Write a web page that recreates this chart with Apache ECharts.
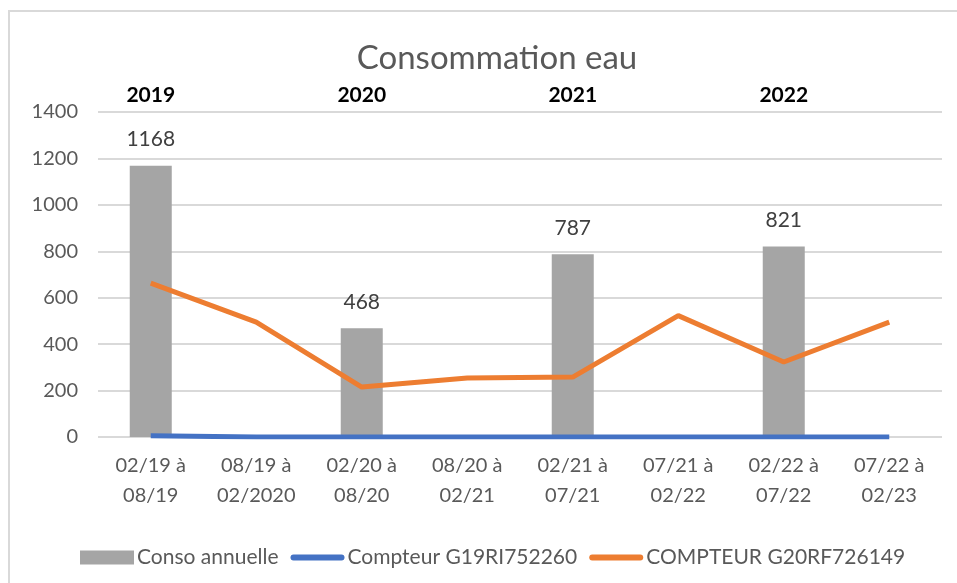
<!DOCTYPE html>
<html>
<head>
<meta charset="utf-8">
<script src="https://cdn.jsdelivr.net/npm/echarts@6/dist/echarts.min.js"></script>
<style>
	html, body { margin: 0; padding: 0; background: #fff; }
	#chart { width: 957px; height: 583px; }
</style>
</head>
<body>
<div id="chart"></div>
<script>
var periodes = ["02/19 à\n08/19", "08/19 à\n02/2020", "02/20 à\n08/20", "08/20 à\n02/21",
				"02/21 à\n07/21", "07/21 à\n02/22", "02/22 à\n07/22", "07/22 à\n02/23"];
var annees = ["2019", "", "2020", "", "2021", "", "2022", ""];
var consoAnnuelle = [1168, null, 468, null, 787, null, 821, null];
var compteurG19 = [5, 0, 0, 0, 0, 0, 0, 0];
var compteurG20 = [663, 495, 215, 254, 258, 523, 323, 495];
var yTicks = [0, 200, 400, 600, 800, 1000, 1200, 1400];

var police = "Lato, 'Open Sans', sans-serif";
// trait arrondi pour la légende des courbes
var iconTrait = 'path://M3,0 L51,0 A3,3 0 0 1 51,6 L3,6 A3,3 0 0 1 3,0 Z';
var mycharts = echarts.init(document.getElementById('chart'));

var option = {
	animation: false,
	backgroundColor: '#fff',
	title: {
		text: "Consommation eau",
		left: 492,
		textAlign: 'center',
		top: 37,
		textStyle: {
			fontFamily: police,
			fontSize: 33,
			fontWeight: 'normal',
			color: '#595959'
		}
	},
	graphic: [{
		type: 'rect',
		shape: { x: 9, y: 11, width: 1000, height: 1000 },
		style: { fill: 'none', stroke: '#d9d9d9', lineWidth: 2 },
		silent: true
	}],
	legend: {
		left: 75,
		top: 542,
		itemWidth: 54,
		itemHeight: 14,
		itemGap: 12,
		textStyle: {
			fontFamily: police,
			fontSize: 21,
			color: '#595959',
			padding: [0, 0, 0, -2]
		},
		data: [
			{ name: "Conso annuelle", icon: 'rect' },
			{ name: "Compteur G19RI752260", icon: iconTrait },
			{ name: "COMPTEUR G20RF726149", icon: iconTrait }
		]
	},
	grid: {
		left: 98,
		right: 15,
		top: 112,
		bottom: 146
	},
	xAxis: [{
		type: 'category',
		data: periodes,
		axisLine: { show: false },
		axisTick: { show: false },
		axisLabel: {
			interval: 0,
			margin: 14,
			fontFamily: police,
			fontSize: 20,
			lineHeight: 30,
			color: '#595959'
		}
	}, {
		type: 'category',
		position: 'top',
		data: annees,
		axisLine: { show: false },
		axisTick: { show: false },
		axisLabel: {
			interval: 0,
			margin: 6,
			fontFamily: police,
			fontSize: 21,
			fontWeight: 'bold',
			color: '#000'
		}
	}],
	yAxis: {
		type: 'value',
		min: yTicks[0],
		max: yTicks[yTicks.length - 1],
		interval: 200,
		axisLine: { show: false },
		axisTick: { show: false },
		axisLabel: {
			margin: 20,
			fontFamily: police,
			fontSize: 20,
			color: '#595959',
			formatter: function (v) { return String(v); }
		},
		splitLine: { lineStyle: { color: '#d9d9d9', width: 2 } }
	},
	series: [{
		name: "Conso annuelle",
		type: 'bar',
		data: consoAnnuelle,
		barWidth: 42,
		itemStyle: { color: '#a5a5a5' },
		label: {
			show: true,
			position: 'top',
			distance: 16,
			fontFamily: police,
			fontSize: 21,
			color: '#404040'
		}
	}, {
		name: "Compteur G19RI752260",
		type: 'line',
		data: compteurG19,
		symbol: 'none',
		lineStyle: { color: '#4472c4', width: 5 },
		itemStyle: { color: '#4472c4' }
	}, {
		name: "COMPTEUR G20RF726149",
		type: 'line',
		data: compteurG20,
		symbol: 'none',
		lineStyle: { color: '#ed7d31', width: 5 },
		itemStyle: { color: '#ed7d31' }
	}]
};
mycharts.setOption(option);
</script>
</body>
</html>
